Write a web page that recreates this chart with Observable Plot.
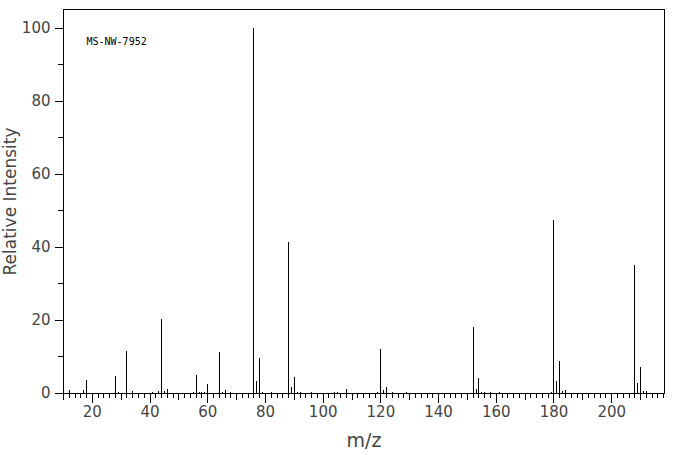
<!DOCTYPE html>
<html>
<head>
<meta charset="utf-8">
<script src="https://cdn.jsdelivr.net/npm/d3@7"></script>
<script src="https://cdn.jsdelivr.net/npm/@observablehq/plot@0.6"></script>
<style>
  html, body { margin: 0; padding: 0; background: #fff; }
</style>
</head>
<body>
<div id="chart"></div>
<script>
// Peak positions (m/z) and relative intensities
const mz = [12,17,18,28,29,32,34,41,43,44,45,46,55,56,57,58,59,60,64,65,66,68,76,77,78,79,82,88,89,90,91,92,96,104,105,108,119,120,121,122,124,129,152,153,154,155,156,158,161,179,180,181,182,183,184,208,209,210,211,212];
const intensity = [0.9,0.9,3.6,4.7,0.3,11.4,0.6,0.3,0.6,20.2,0.6,1.1,0.4,5.0,0.4,0.4,0.4,2.6,11.1,0.3,0.9,0.3,100,3.2,9.5,0.3,0.3,41.3,1.7,4.3,0.4,0.3,0.3,0.4,0.4,1.2,0.4,12.0,0.9,1.7,0.3,0.4,18.2,1.2,4.0,0.4,0.4,0.3,0.3,0.4,47.4,3.2,8.7,0.6,0.9,35.1,2.8,7.0,0.6,0.6];
const xMajorTicks = [20,40,60,80,100,120,140,160,180,200];
const xMidTicks = [10,30,50,70,90,110,130,150,170,190,210];
const xMinorTicks = d3.range(10, 219, 2);
const yMajorTicks = [0,20,40,60,80,100];
const yMinorTicks = [10,30,50,70,90];
const sampleLabel = "MS-NW-7952";
const xLabel = "m/z";
const yLabel = "Relative Intensity";

const peaks = mz.map((m, i) => ({mz: m, intensity: intensity[i]}));

const fontFam = "'DejaVu Sans', sans-serif";

const chart = Plot.plot({
  width: 676,
  height: 455,
  marginLeft: 63,
  marginRight: 12,
  marginTop: 9,
  marginBottom: 62,
  style: {fontFamily: fontFam, fontSize: "15px", color: "#000", background: "#fff"},
  x: {domain: [10, 218.3], label: null},
  y: {domain: [0, 105.2], label: null},
  marks: [
    Plot.frame({stroke: "#000"}),
    Plot.axisX(xMinorTicks, {tickSize: 5, text: null, stroke: "#000", label: null, shapeRendering: "crispEdges"}),
    Plot.axisX(xMidTicks, {tickSize: 7, text: null, stroke: "#000", label: null, shapeRendering: "crispEdges"}),
    Plot.axisX(xMajorTicks, {tickSize: 10, tickPadding: 3, stroke: "#000", fill: "#444", fontSize: 15, label: null, shapeRendering: "crispEdges"}),
    Plot.axisY(yMinorTicks, {tickSize: 5, text: null, stroke: "#000", label: null, shapeRendering: "crispEdges"}),
    Plot.axisY(yMajorTicks, {tickSize: 8, tickPadding: 5, stroke: "#000", fill: "#444", fontSize: 15, label: null, shapeRendering: "crispEdges"}),
    Plot.ruleX(peaks, {x: "mz", y1: 0, y2: "intensity", stroke: "#000", strokeWidth: 1, shapeRendering: "crispEdges"}),
    Plot.text([sampleLabel], {frameAnchor: "top-left", text: d => d, dx: 23, dy: 32, textAnchor: "start", lineAnchor: "middle", fontFamily: "'DejaVu Sans Mono', monospace", fontSize: 10, fill: "#000"}),
    Plot.text([xLabel], {frameAnchor: "bottom", text: d => d, dy: 47, lineAnchor: "middle", fontSize: 19, fill: "#444"}),
    Plot.text([yLabel], {frameAnchor: "left", text: d => d, dx: -53, rotate: -90, textAnchor: "middle", lineAnchor: "middle", fontSize: 17, fill: "#444"})
  ]
});
document.getElementById("chart").appendChild(chart);
</script>
</body>
</html>
